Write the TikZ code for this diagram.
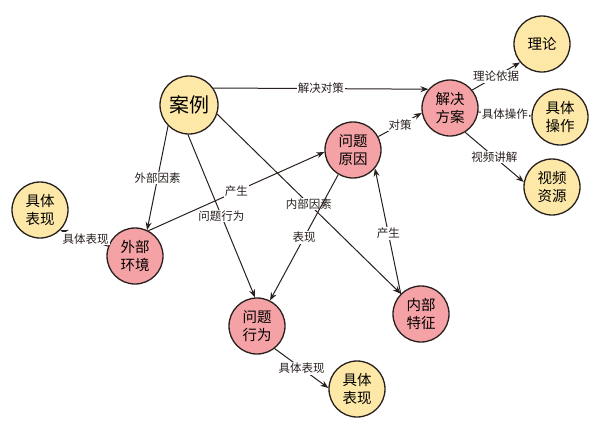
\documentclass[tikz,border=0pt]{standalone}
\usepackage{fontspec}
\newfontfamily\cjk{Noto Sans CJK SC}
\usepackage{xcolor}
\usetikzlibrary{arrows.meta,positioning}
\definecolor{yelfill}{RGB}{253,232,168}
\definecolor{prbfill}{RGB}{244,162,165}
\definecolor{rim}{RGB}{40,32,30}
\tikzset{
  nd/.style  ={circle,draw=rim,line width=1.3pt,minimum size=56pt,inner sep=0pt,align=center,
               font=\cjk\fontsize{14.5}{17.5}\selectfont},
  yel/.style ={nd,fill=yelfill},
  prb/.style ={nd,fill=prbfill},
  flow/.style={-{Stealth[length=8pt,width=6pt]},line width=1pt,draw=rim},
  lbl/.style ={font=\cjk\fontsize{11.5}{13}\selectfont,fill=white,inner sep=1pt,text=rim},
}

\begin{document}
\begin{tikzpicture}[x=1pt,y=-1pt,on grid]
  \useasboundingbox (0,0) rectangle (596,429);
  \node[yel,minimum size=58pt,font=\cjk\fontsize{20}{22}\selectfont] (al) at (189,105) {案例};
  \node[prb,below left=151pt and 54pt of al] (wj) {外部\\环境};
  \node[yel,above left=46pt and 95pt of wj] (lb) {具体\\表现};
  \node[prb,below right=70pt and 122pt of wj] (xw) {问题\\行为};
  \node[yel,below right=63pt and 100pt of xw] (bb) {具体\\表现};
  \node[prb,below right=45pt and 164pt of al] (yy) {问题\\原因};
  \node[prb,above right=42pt and 97pt of yy] (fa) {解决\\方案};
  \node[prb,below right=164pt and 68pt of yy] (nt) {内部\\特征};
  \node[yel,above right=64pt and 92pt of fa] (ll) {理论};
  \node[yel,below right=9pt and 110pt of fa] (cz) {具体\\操作};
  \node[yel,below right=79pt and 102pt of fa] (sp) {视频\\资源};
  % from the case
  \draw[flow] (al.35) -- node[lbl] {解决对策} (fa.139);
  \draw[flow] (al.225) -- node[lbl] {外部因素} (wj.65);
  \draw[flow] (al.268) -- node[lbl] {问题行为} (xw.94);
  \draw[flow] (al.-18) -- node[lbl] {内部因素} (nt.135);
  % causes and behaviour
  \draw[flow] (wj.62) -- node[lbl] {产生} (yy.184);
  \draw[flow] (yy.239) -- node[lbl] {表现} (xw.63);
  \draw[flow] (nt.135) -- node[lbl,pos=.48] {产生} (yy.-40);
  \draw[flow] (yy.28) -- node[lbl] {对策} (fa.190);
  \draw[flow] (wj.160) -- node[lbl,pos=.47] {具体表现} (lb.-45);
  \draw[flow] (xw.-52) -- node[lbl] {具体表现} (bb.178);
  % solution
  \draw[flow] (fa.39) -- node[lbl] {理论依据} (ll.220);
  \draw[flow] (fa.-8) -- node[lbl] {具体操作} (cz.178);
  \draw[flow] (fa.-58) -- node[lbl] {视频讲解} (sp.170);
\end{tikzpicture}
\end{document}
